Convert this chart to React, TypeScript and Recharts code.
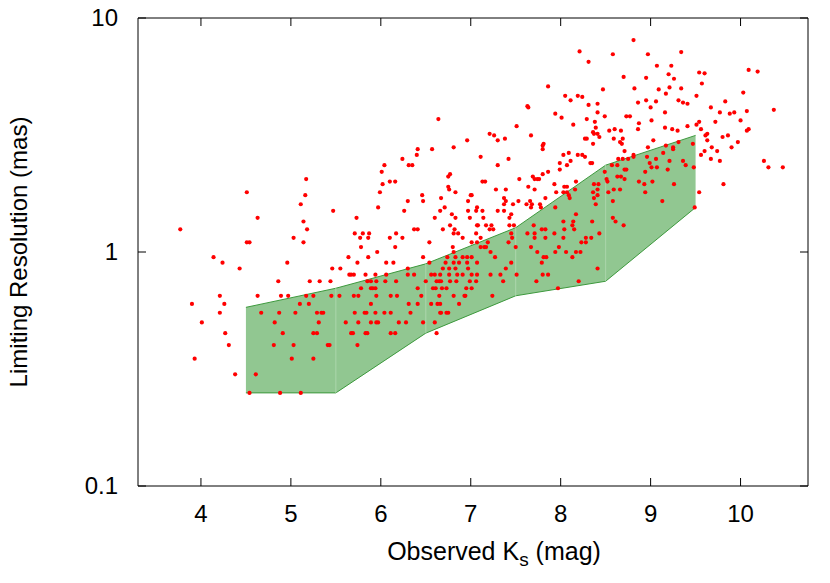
import { Area, ComposedChart, ReferenceArea, ReferenceLine, Scatter, XAxis, YAxis } from 'recharts'

const magTicks = [4, 5, 6, 7, 8, 9, 10]
const resTicks = [0.1, 1, 10]

// predicted range per 1-mag bin
const binMag = [4.5, 5.5, 6.5, 7.5, 8.5, 9.5]
const binUpper = [0.58, 0.7, 0.89, 1.27, 2.35, 3.15]
const binLower = [0.25, 0.25, 0.45, 0.65, 0.75, 1.55]

// [Ks mag, limiting resolution mas]
const observations: [number, number][] = [
  [6.64, 3.7], [6.96, 3.0], [6.41, 2.75], [6.57, 2.75], [6.81, 2.8], [6.4, 2.6],
  [8.81, 8.05], [8.21, 7.2], [8.58, 7.0], [8.31, 6.5], [8.7, 5.6], [7.86, 5.1], [8.47, 4.95], [8.82, 5.0],
  [8.05, 4.65], [8.19, 4.65], [8.24, 4.6], [8.11, 4.45], [7.63, 4.2], [7.64, 4.15], [8.31, 4.25], [8.41, 4.3],
  [7.94, 3.9], [8.01, 3.75], [8.41, 3.95], [8.49, 3.8], [8.29, 3.7], [8.73, 3.8], [8.77, 3.8], [8.38, 3.6],
  [7.51, 3.45], [8.14, 3.5], [8.39, 3.4], [7.21, 3.2], [7.26, 3.15], [7.38, 3.05], [7.3, 3.0], [7.67, 3.15],
  [8.36, 3.25], [8.37, 3.2], [8.41, 3.2], [8.43, 3.1], [8.54, 3.3], [8.6, 3.35], [8.67, 3.3], [8.27, 3.05],
  [8.29, 3.05], [8.59, 3.05], [8.69, 3.05], [8.66, 2.95], [8.68, 2.9], [8.36, 2.9], [7.81, 2.9], [7.8, 2.85],
  [7.8, 2.75], [8.71, 2.7], [8.09, 2.65], [8.03, 2.6], [8.19, 2.6], [8.24, 2.6], [8.81, 2.6],
  [8.97, 7.0], [9.34, 7.15], [9.07, 6.25], [9.23, 6.25], [8.95, 5.55], [9.2, 5.75], [9.26, 5.5], [9.54, 5.85],
  [9.6, 5.8], [10.09, 6.0], [10.19, 5.9], [9.09, 4.95], [9.21, 5.05], [9.34, 5.0], [9.57, 5.25], [9.17, 4.75],
  [9.51, 4.65], [10.03, 4.8], [8.86, 4.35], [8.95, 4.45], [9.06, 4.4], [9.31, 4.45], [9.36, 4.35], [9.41, 4.3],
  [9.0, 4.15], [9.83, 4.4], [9.67, 4.15], [9.16, 3.95], [9.77, 3.95], [9.88, 3.9], [9.93, 3.95], [10.07, 4.0],
  [10.37, 4.05], [9.01, 3.65], [8.87, 3.55], [8.86, 3.35], [9.16, 3.4], [9.24, 3.35], [9.3, 3.3], [9.41, 3.45],
  [9.51, 3.5], [9.54, 3.6], [9.56, 3.35], [9.72, 3.6], [10.0, 3.65], [10.07, 3.3], [10.09, 3.35], [9.61, 3.15],
  [9.63, 3.2], [9.8, 3.1], [9.86, 3.15], [9.63, 3.0], [9.97, 2.95], [9.03, 3.0], [9.31, 2.95], [9.17, 2.85],
  [9.25, 2.8], [9.25, 2.75], [9.47, 2.9], [8.97, 2.8], [9.68, 2.8], [9.9, 2.8], [9.14, 2.65], [9.6, 2.7],
  [9.74, 2.7], [9.56, 2.6],
  [5.17, 2.05], [4.51, 1.8], [5.16, 1.75], [5.11, 1.6], [4.63, 1.4], [5.14, 1.35], [5.18, 1.25], [3.77, 1.25],
  [5.03, 1.15], [4.51, 1.1], [4.54, 1.1], [5.14, 1.1], [4.14, 0.95], [4.24, 0.9], [4.96, 0.9], [4.43, 0.85],
  [6.24, 2.5], [6.04, 2.35], [6.31, 2.35], [6.35, 2.35], [6.01, 2.2], [6.77, 2.15], [6.75, 2.1], [6.1, 2.0],
  [6.16, 2.0], [6.02, 1.95], [6.75, 1.9], [6.76, 1.85], [6.83, 1.8], [5.99, 1.8], [6.46, 1.75], [7.0, 1.75],
  [7.01, 1.75], [6.67, 1.7], [6.3, 1.65], [6.47, 1.65], [6.97, 1.65], [5.97, 1.55], [6.71, 1.55], [7.07, 1.55],
  [6.26, 1.5], [6.66, 1.5], [6.97, 1.5], [7.06, 1.5], [5.47, 1.5], [6.79, 1.45], [5.73, 1.4], [6.6, 1.4],
  [6.83, 1.4], [6.99, 1.4], [6.77, 1.3], [7.07, 1.3], [7.08, 1.3], [6.37, 1.25], [6.41, 1.25], [6.69, 1.25],
  [6.82, 1.25], [5.71, 1.2], [5.8, 1.2], [5.87, 1.2], [6.17, 1.2], [6.81, 1.2], [6.86, 1.2], [7.06, 1.2],
  [5.77, 1.15], [5.86, 1.15], [6.1, 1.15], [6.24, 1.15], [6.91, 1.15], [6.54, 1.1], [7.01, 1.1], [7.07, 1.1],
  [5.78, 1.05], [6.16, 1.05], [6.8, 1.05], [5.96, 1.0], [6.81, 1.0], [5.64, 0.95], [5.86, 0.95], [6.47, 0.95],
  [6.74, 0.95], [6.83, 0.95], [6.91, 0.95], [6.96, 0.95], [7.01, 0.95], [5.74, 0.9], [6.06, 0.9], [6.14, 0.9],
  [6.54, 0.9], [6.72, 0.9], [6.81, 0.9], [6.87, 0.9], [6.96, 0.9], [7.07, 0.9], [5.46, 0.85], [5.55, 0.85],
  [6.3, 0.85], [6.69, 0.85], [6.76, 0.85], [6.83, 0.85], [6.97, 0.85], [5.65, 0.8], [5.67, 0.8], [5.7, 0.8],
  [5.83, 0.8], [5.94, 0.8], [6.06, 0.8], [6.3, 0.8], [6.37, 0.8], [6.56, 0.8], [6.6, 0.8], [6.66, 0.8],
  [6.76, 0.8], [6.85, 0.8], [6.91, 0.8], [7.01, 0.8], [7.07, 0.8],
  [7.11, 2.55], [7.42, 2.5], [7.99, 2.4], [8.11, 2.45], [8.27, 2.55], [8.33, 2.4], [8.35, 2.4], [8.64, 2.5],
  [8.69, 2.5], [8.75, 2.5], [8.81, 2.55], [7.3, 2.35], [8.07, 2.35], [7.99, 2.25], [8.71, 2.25], [8.73, 2.25],
  [8.57, 2.35], [8.63, 2.35], [8.49, 2.2], [7.86, 2.2], [7.8, 2.15], [7.69, 2.1], [7.71, 2.05], [7.74, 2.05],
  [7.76, 2.05], [7.54, 2.05], [7.13, 2.0], [7.16, 2.0], [7.93, 1.95], [8.17, 2.0], [8.63, 2.1], [8.67, 2.1],
  [8.71, 2.05], [8.51, 2.05], [8.52, 2.0], [8.37, 1.95], [8.42, 1.95], [8.04, 1.9], [8.07, 1.9], [7.64, 1.9],
  [7.39, 1.85], [7.28, 1.85], [7.71, 1.85], [8.16, 1.85], [8.41, 1.85], [7.95, 1.8], [8.03, 1.8], [8.07, 1.8],
  [8.59, 1.85], [8.66, 1.85], [8.53, 1.8], [8.36, 1.8], [8.41, 1.75], [8.09, 1.75], [8.1, 1.7], [8.37, 1.7],
  [7.37, 1.7], [7.39, 1.65], [7.53, 1.65], [7.66, 1.65], [7.83, 1.7], [8.58, 1.65], [7.77, 1.6], [7.78, 1.55],
  [7.62, 1.6], [7.68, 1.6], [7.67, 1.55], [7.37, 1.6], [7.47, 1.6], [8.39, 1.6], [7.94, 1.55], [7.13, 1.5],
  [7.3, 1.5], [7.37, 1.5], [8.17, 1.45], [7.14, 1.4], [7.45, 1.45], [7.43, 1.4], [8.58, 1.4], [8.61, 1.35],
  [8.03, 1.35], [8.14, 1.35], [8.35, 1.35], [7.17, 1.3], [7.23, 1.3], [7.43, 1.3], [7.48, 1.3], [7.7, 1.3],
  [8.13, 1.3], [8.7, 1.3], [7.21, 1.25], [7.25, 1.25], [7.79, 1.25], [7.83, 1.25], [8.04, 1.25], [8.15, 1.25],
  [7.45, 1.2], [7.63, 1.2], [7.71, 1.2], [7.93, 1.2], [8.43, 1.2], [7.46, 1.15], [7.71, 1.15], [7.83, 1.15],
  [8.03, 1.15], [8.28, 1.15], [8.34, 1.15], [7.11, 1.15], [7.19, 1.1], [7.42, 1.1], [8.23, 1.1], [8.28, 1.1],
  [7.11, 1.05], [7.15, 1.05], [7.17, 1.05], [7.5, 1.05], [7.67, 1.05], [7.98, 1.05], [7.22, 1.0], [7.74, 1.0],
  [7.94, 1.0], [8.06, 1.0], [8.17, 1.0], [8.22, 1.0], [7.27, 0.95], [7.81, 0.95], [7.84, 0.95], [8.13, 0.95],
  [7.45, 0.9], [7.79, 0.9], [7.39, 0.85], [8.41, 0.85], [7.22, 0.8], [7.33, 0.8], [7.51, 0.8], [7.8, 0.8],
  [7.86, 0.8],
  [8.96, 2.55], [9.06, 2.5], [9.21, 2.45], [9.36, 2.45], [9.67, 2.5], [9.77, 2.45], [10.26, 2.45], [8.99, 2.4],
  [9.39, 2.35], [9.01, 2.3], [9.07, 2.3], [9.48, 2.3], [10.31, 2.3], [10.47, 2.3], [8.94, 2.2], [9.19, 2.25],
  [8.87, 2.0], [8.93, 1.95], [9.02, 2.0], [9.26, 1.95], [9.81, 1.95], [8.94, 1.8], [9.54, 1.8], [9.13, 1.65],
  [9.49, 1.55],
  [4.86, 0.75], [5.21, 0.75], [5.32, 0.75], [4.21, 0.65], [4.63, 0.65], [4.89, 0.65], [4.97, 0.65], [5.17, 0.65],
  [5.25, 0.65], [3.9, 0.6], [4.26, 0.6], [5.1, 0.6], [5.2, 0.6], [4.21, 0.55], [4.67, 0.55], [4.87, 0.55],
  [5.05, 0.55], [5.29, 0.55], [5.34, 0.55], [5.36, 0.55], [4.01, 0.5], [4.82, 0.5], [5.31, 0.5], [4.27, 0.45],
  [4.91, 0.45], [5.25, 0.45], [5.29, 0.45], [4.31, 0.4], [4.81, 0.4], [5.03, 0.4], [3.93, 0.35], [5.01, 0.35],
  [5.25, 0.35], [4.38, 0.3], [4.61, 0.3], [4.54, 0.25], [4.88, 0.25], [5.11, 0.25],
  [5.44, 0.75], [5.85, 0.75], [5.89, 0.75], [5.95, 0.75], [6.05, 0.75], [6.17, 0.75], [6.5, 0.75], [6.62, 0.75],
  [6.65, 0.75], [6.67, 0.75], [6.77, 0.75], [6.84, 0.75], [6.99, 0.75], [7.06, 0.75], [5.78, 0.7], [5.89, 0.7],
  [5.91, 0.7], [5.94, 0.7], [6.41, 0.7], [6.58, 0.7], [6.61, 0.7], [6.68, 0.7], [6.73, 0.7], [6.95, 0.7],
  [7.01, 0.7], [5.45, 0.65], [5.54, 0.65], [5.7, 0.65], [5.75, 0.65], [5.95, 0.65], [6.11, 0.65], [6.18, 0.65],
  [6.45, 0.65], [6.65, 0.65], [6.81, 0.65], [6.93, 0.65], [6.94, 0.65], [5.89, 0.6], [6.31, 0.6], [6.41, 0.6],
  [6.56, 0.6], [6.63, 0.6], [6.66, 0.6], [6.87, 0.6], [5.71, 0.55], [5.82, 0.55], [5.84, 0.55], [5.94, 0.55],
  [6.04, 0.55], [6.11, 0.55], [6.33, 0.55], [6.66, 0.55], [6.67, 0.55], [6.73, 0.55], [6.75, 0.55], [5.61, 0.5],
  [5.75, 0.5], [5.89, 0.5], [5.95, 0.5], [5.97, 0.5], [6.2, 0.5], [6.28, 0.5], [6.47, 0.5], [6.6, 0.5],
  [5.67, 0.45], [5.69, 0.45], [5.83, 0.45], [5.85, 0.45], [6.11, 0.45], [6.16, 0.45], [6.62, 0.45], [5.41, 0.4],
  [5.43, 0.4], [5.74, 0.4],
  [7.36, 0.75], [7.73, 0.75], [8.2, 0.75], [7.24, 0.65], [7.97, 0.7],
]

const FONT = '"Liberation Sans", Arial, Helvetica, sans-serif'
const PLOT_TOP = 18
const PLOT_RIGHT = 808

const band = binMag.map((x, i) => ({ x, lo: binLower[i], hi: binUpper[i] }))
const points = observations.map(([x, y]) => ({ x, y }))

function MagTick({ x, y, payload }: any) {
  return (
    <g>
      <line x1={x} x2={x} y1={y} y2={y - 8} stroke="#000" />
      <line x1={x} x2={x} y1={PLOT_TOP} y2={PLOT_TOP + 8} stroke="#000" />
      <text x={x} y={y + 36} textAnchor="middle" fontSize={24} fontFamily={FONT} fill="#000">
        {payload.value}
      </text>
    </g>
  )
}

function ResTick({ x, y, payload }: any) {
  return (
    <g>
      <line x1={x} x2={x + 8} y1={y} y2={y} stroke="#000" />
      <line x1={PLOT_RIGHT} x2={PLOT_RIGHT - 8} y1={y} y2={y} stroke="#000" />
      <text x={x - 20} y={y} dy="0.35em" textAnchor="end" fontSize={24} fontFamily={FONT} fill="#000">
        {payload.value}
      </text>
    </g>
  )
}

const Dot = (p: any) => <circle cx={p.cx} cy={p.cy} r={2.1} fill="#ff0000" />

export default function App() {
  return (
    <div style={{ position: 'absolute', left: 0, top: 0, background: '#fff' }}>
      <ComposedChart width={830} height={583} margin={{ top: PLOT_TOP, right: 22, bottom: 0, left: 0 }}>
        <XAxis
          dataKey="x"
          type="number"
          domain={[3.3, 10.75]}
          ticks={magTicks}
          interval={0}
          allowDataOverflow
          height={97}
          axisLine={false}
          tickLine={false}
          tickSize={0}
          tickMargin={0}
          tick={<MagTick />}
          label={() => (
            <text x={494} y={560} textAnchor="middle" fontSize={25} fontFamily={FONT} fill="#000">
              Observed K<tspan fontSize={19} dy={6}>s</tspan>
              <tspan dy={-6}> (mag)</tspan>
            </text>
          )}
        />
        <YAxis
          type="number"
          scale="log"
          domain={[0.1, 10]}
          ticks={resTicks}
          interval={0}
          allowDataOverflow
          width={138}
          axisLine={false}
          tickLine={false}
          tickSize={0}
          tickMargin={0}
          tick={<ResTick />}
          label={() => (
            <text
              x={27}
              y={252}
              transform="rotate(-90 27 252)"
              textAnchor="middle"
              fontSize={24}
              fontFamily={FONT}
              fill="#000"
            >
              Limiting Resolution (mas)
            </text>
          )}
        />
        <Area
          data={band}
          dataKey={(d: any) => [d.lo, d.hi]}
          type="linear"
          fill="#91c791"
          fillOpacity={1}
          stroke="#3d993d"
          strokeWidth={1}
          isAnimationActive={false}
        />
        {binMag.slice(1, -1).map((x, i) => (
          <ReferenceLine
            key={x}
            segment={[
              { x, y: binLower[i + 1] },
              { x, y: binUpper[i + 1] },
            ]}
            stroke="#acd6ac"
            strokeWidth={1}
          />
        ))}
        <Scatter data={points} dataKey="y" shape={Dot} isAnimationActive={false} />
        <ReferenceArea x1={3.3} x2={10.75} y1={0.1} y2={10} fill="none" stroke="#000" strokeWidth={1} ifOverflow="visible" />
      </ComposedChart>
    </div>
  )
}
